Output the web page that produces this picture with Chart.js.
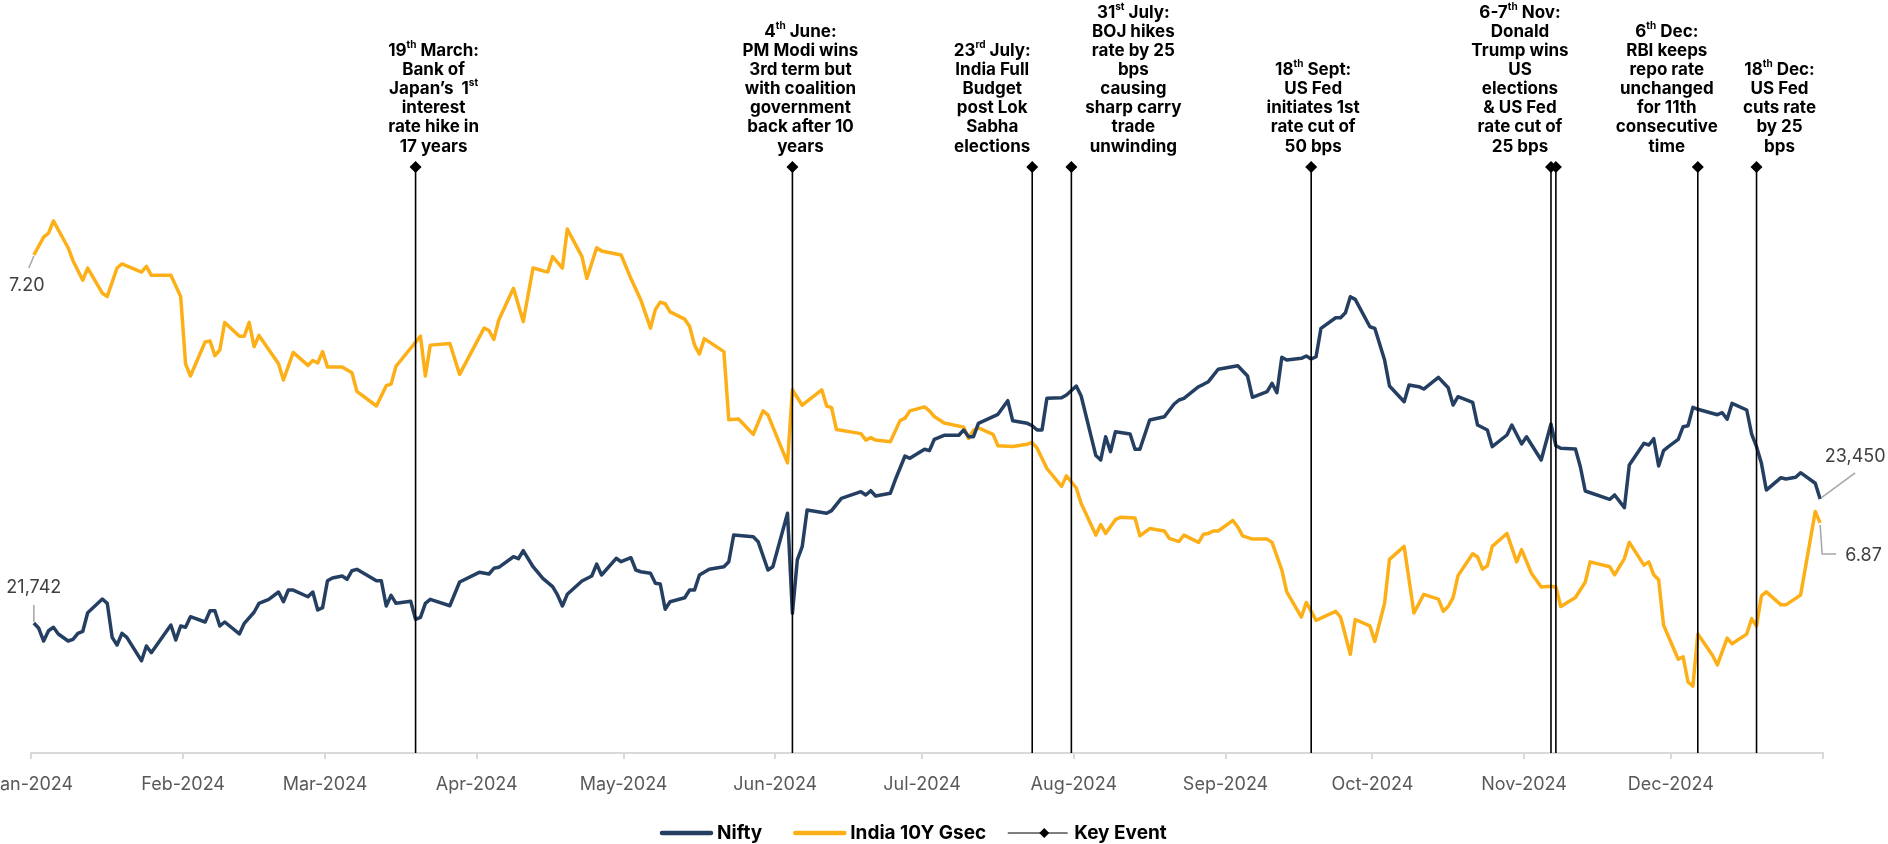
<!DOCTYPE html>
<html>
<head>
<meta charset="utf-8">
<title>Nifty x India 10Y Gsec 2024</title>
<script src="https://cdn.jsdelivr.net/npm/chart.js@4.4.1/dist/chart.umd.min.js"></script>
<style>
  html, body { margin: 0; padding: 0; background: #fff; overflow: hidden; }
  #quadro { position: relative; width: 1888px; height: 844px; }
</style>
</head>
<body>
<div id="quadro"><canvas id="graficoNifty" width="1888" height="844"></canvas></div>
<script>
// eixo x: dia do ano (1 = 1 jan 2024); ticks no inicio de cada mes
const mesInicio = [0, 31, 60, 91, 121, 152, 182, 213, 244, 274, 305, 335, 366];
const mesRotulo = ['Jan-2024', 'Feb-2024', 'Mar-2024', 'Apr-2024', 'May-2024', 'Jun-2024',
  'Jul-2024', 'Aug-2024', 'Sep-2024', 'Oct-2024', 'Nov-2024', 'Dec-2024', ''];

// Nifty 50 - fechamento
const niftyDia = [1,2,3,4,5,6,8,9,10,11,12,15,16,17,18,19,20,23,24,25,29,30,31,32,33,36,37,38,39,40,
  43,44,46,47,49,51,52,53,54,57,58,59,60,61,62,64,65,66,67,71,72,73,74,75,78,79,80,81,82,86,
  88,92,94,95,96,99,100,101,103,105,107,108,109,110,113,115,116,117,120,121,123,124,125,127,128,129,130,131,134,135,
  136,137,139,142,143,144,148,149,151,152,155,156,157,158,159,163,164,166,170,171,172,173,176,177,179,180,183,184,185,187,
  190,191,192,193,194,198,200,201,204,205,206,207,208,211,212,214,215,218,219,220,221,222,225,226,227,229,232,234,235,236,
  239,240,241,243,247,249,250,253,254,255,256,257,260,261,262,263,264,267,268,269,270,271,274,275,277,278,281,282,284,285,
  288,290,291,292,295,296,298,299,302,303,305,306,309,311,312,313,316,317,318,323,324,326,327,330,331,332,333,334,335,337,
  338,339,340,341,345,346,347,348,351,352,353,354,355,358,359,361,362,365,366];
const niftyFech = [21742,21669,21494,21636,21683,21591,21494,21518,21600,21628,21884,22072,22013,21545,21439,21600,21545,21223,21425,21333,21714,21508,21701,21683,21829,21756,21911,21911,21701,21756,
  21591,21738,21890,22013,22068,22169,22035,22196,22196,22104,22169,21921,21953,22324,22362,22389,22344,22462,22481,22324,22324,21976,22123,22013,22041,21793,21820,22013,22068,21980,
  22307,22440,22417,22495,22509,22655,22627,22738,22517,22357,22242,22128,21976,22137,22320,22389,22554,22403,22633,22586,22641,22472,22448,22426,22289,22279,21931,22035,22090,22196,
  22196,22403,22481,22517,22586,22954,22930,22862,22472,22517,23253,21876,22610,22793,23298,23253,23289,23459,23550,23505,23564,23491,23528,23711,24042,24010,24134,24115,24272,24327,
  24327,24400,24307,24307,24492,24616,24803,24528,24492,24459,24400,24400,24836,24844,24882,25005,24868,24048,23987,24307,24101,24376,24345,24134,24134,24537,24583,24758,24813,24836,
  24996,25029,25065,25236,25285,25143,24850,24927,25043,24913,25401,25364,25387,25419,25377,25409,25800,25946,25946,26015,26235,26199,25822,25800,25364,25005,24789,25019,24996,24964,
  25125,24982,24744,24858,24781,24468,24400,24170,24331,24468,24207,24307,23987,24482,24183,24148,24138,23894,23560,23445,23505,23330,23918,24216,24193,24280,23904,24115,24170,24272,
  24445,24459,24712,24685,24610,24638,24547,24767,24675,24344,24170,23941,23573,23743,23725,23748,23812,23666,23450];

// India 10Y Gsec - yield (%)
const gsecDia = [1,3,4,5,8,9,11,12,15,16,18,19,23,24,25,29,30,31,32,33,36,37,38,39,40,43,44,45,46,47,
  51,52,54,57,58,59,60,61,64,66,67,71,73,74,75,80,81,82,86,88,93,94,95,96,99,101,103,106,107,109,
  110,113,114,116,117,121,123,125,127,128,129,130,131,134,135,136,137,138,142,143,145,148,150,151,155,156,158,162,163,164,
  165,170,171,172,173,176,178,179,180,183,184,185,187,191,192,193,194,197,198,201,204,205,206,208,211,212,214,215,218,219,
  220,222,223,226,227,229,232,233,235,236,239,240,241,242,243,246,247,248,250,253,254,256,257,260,261,263,267,268,270,271,
  274,275,277,278,281,283,285,288,289,290,291,292,295,296,297,298,299,302,304,305,307,309,311,312,313,316,318,319,323,324,
  326,327,330,331,332,333,334,337,338,339,340,341,344,345,347,348,351,352,353,354,355,358,359,362,365,366];
const gsecYield = [7.200,7.222,7.227,7.242,7.209,7.193,7.169,7.184,7.153,7.149,7.184,7.189,7.179,7.186,7.175,7.175,7.162,7.149,7.066,7.051,7.093,7.094,7.076,7.083,7.117,7.100,7.100,7.117,7.087,7.101,
  7.066,7.046,7.080,7.064,7.070,7.067,7.081,7.062,7.062,7.055,7.032,7.014,7.039,7.041,7.063,7.100,7.051,7.089,7.091,7.053,7.110,7.107,7.096,7.120,7.159,7.118,7.184,7.179,7.198,7.184,
  7.232,7.198,7.171,7.209,7.205,7.200,7.171,7.145,7.110,7.133,7.142,7.140,7.130,7.121,7.112,7.089,7.078,7.097,7.081,6.997,6.998,6.979,7.008,7.003,6.944,7.034,7.015,7.034,7.014,7.012,
  6.985,6.980,6.972,6.975,6.972,6.970,6.996,6.999,7.008,7.013,7.008,7.001,6.993,6.988,6.974,6.984,6.987,6.979,6.965,6.964,6.967,6.969,6.962,6.937,6.915,6.928,6.913,6.894,6.855,6.868,
  6.857,6.874,6.877,6.876,6.854,6.863,6.860,6.851,6.847,6.855,6.846,6.856,6.857,6.860,6.860,6.873,6.865,6.854,6.850,6.850,6.846,6.812,6.785,6.754,6.772,6.750,6.761,6.754,6.708,6.751,
  6.743,6.724,6.771,6.825,6.841,6.759,6.782,6.776,6.761,6.767,6.778,6.805,6.832,6.828,6.813,6.817,6.841,6.857,6.822,6.837,6.808,6.791,6.792,6.791,6.767,6.778,6.797,6.822,6.816,6.806,
  6.826,6.846,6.818,6.822,6.806,6.800,6.744,6.702,6.705,6.674,6.669,6.733,6.707,6.695,6.728,6.721,6.733,6.752,6.743,6.780,6.785,6.769,6.769,6.781,6.884,6.870];

// eventos (dia do ano)
const eventoDia = [79, 156, 205, 213, 262, 311, 312, 341, 353];
// notas; ^...^ = sobrescrito
const notaDia = [79, 156, 205, 213, 262, 311, 341, 353];
const notaTexto = [
  ['19^th^ March:', 'Bank of', 'Japan’s  1^st^', 'interest', 'rate hike in', '17 years'],
  ['4^th^ June:', 'PM Modi wins', '3rd term but', 'with coalition', 'government', 'back after 10', 'years'],
  ['23^rd^ July:', 'India Full', 'Budget', 'post Lok', 'Sabha', 'elections'],
  ['31^st^ July:', 'BOJ hikes', 'rate by 25', 'bps', 'causing', 'sharp carry', 'trade', 'unwinding'],
  ['18^th^ Sept:', 'US Fed', 'initiates 1st', 'rate cut of', '50 bps'],
  ['6-7^th^ Nov:', 'Donald', 'Trump wins', 'US', 'elections', '& US Fed', 'rate cut of', '25 bps'],
  ['6^th^ Dec:', 'RBI keeps', 'repo rate', 'unchanged', 'for 11th', 'consecutive', 'time'],
  ['18^th^ Dec:', 'US Fed', 'cuts rate', 'by 25', 'bps']
];
// deslocamento horizontal de cada nota em px
const notaDesloc = [18, 8, -40, 62, 2, -31, -31, 23];

const corNifty = '#253F62';
const corGsec = '#FDAF17';
const fonte = 'Inter, "Open Sans", sans-serif';

function pontos(dias, valores) {
  return dias.map((d, i) => ({ x: d - 0.5, y: valores[i] }));
}

// linhas verticais dos eventos: base (0) -> topo (1), separadas por null
const eventoPontos = [];
eventoDia.forEach(d => {
  eventoPontos.push({ x: d - 0.5, y: 0 }, { x: d - 0.5, y: 1 }, { x: d - 0.5, y: null });
});

function escreveLinha(ctx, linha, cx, cy, tam) {
  const partes = linha.split('^');
  const fN = '700 ' + tam + 'px ' + fonte;
  const fS = '700 ' + Math.round(tam * 0.6) + 'px ' + fonte;
  let largura = 0;
  partes.forEach((p, i) => { ctx.font = i % 2 ? fS : fN; largura += ctx.measureText(p).width; });
  let x = cx - largura / 2;
  partes.forEach((p, i) => {
    ctx.font = i % 2 ? fS : fN;
    ctx.fillText(p, x, i % 2 ? cy - tam * 0.33 : cy);
    x += ctx.measureText(p).width;
  });
}

const notasEventos = {
  id: 'notasEventos',
  afterDatasetsDraw(chart) {
    const { ctx, scales } = chart;
    const topo = scales.yEvt.getPixelForValue(1);
    ctx.save();
    ctx.fillStyle = '#000';
    ctx.textAlign = 'left';
    ctx.textBaseline = 'middle';
    notaTexto.forEach((linhas, i) => {
      const cx = scales.x.getPixelForValue(notaDia[i] - 0.5) + notaDesloc[i];
      linhas.forEach((linha, j) => {
        const cy = topo - 20.5 - (linhas.length - 1 - j) * 19.15;
        escreveLinha(ctx, linha, cx, cy, 17);
      });
    });

    // valores no inicio e no fim das series
    const n = niftyDia.length - 1, g = gsecDia.length - 1;
    const nIni = [scales.x.getPixelForValue(niftyDia[0] - 0.5), scales.yN.getPixelForValue(niftyFech[0])];
    const nFim = [scales.x.getPixelForValue(niftyDia[n] - 0.5), scales.yN.getPixelForValue(niftyFech[n])];
    const gIni = [scales.x.getPixelForValue(gsecDia[0] - 0.5), scales.yG.getPixelForValue(gsecYield[0])];
    const gFim = [scales.x.getPixelForValue(gsecDia[g] - 0.5), scales.yG.getPixelForValue(gsecYield[g])];
    ctx.strokeStyle = '#A6A6A6';
    ctx.lineWidth = 1.5;
    ctx.beginPath();
    ctx.moveTo(nIni[0], nIni[1] - 1); ctx.lineTo(nIni[0], nIni[1] - 18);
    ctx.moveTo(gIni[0], gIni[1] + 1); ctx.lineTo(gIni[0] - 5, gIni[1] + 13);
    ctx.moveTo(nFim[0] + 1, nFim[1] - 1); ctx.lineTo(nFim[0] + 35, nFim[1] - 26);
    ctx.moveTo(gFim[0], gFim[1] + 2); ctx.lineTo(gFim[0] + 2, gFim[1] + 31); ctx.lineTo(gFim[0] + 16, gFim[1] + 31);
    ctx.stroke();
    ctx.fillStyle = '#404040';
    ctx.font = '400 18px ' + fonte;
    ctx.textAlign = 'center';
    const fmt = v => v.toLocaleString('en-US');
    ctx.fillText(fmt(niftyFech[0]), nIni[0], nIni[1] - 35);
    ctx.fillText(gsecYield[0].toFixed(2), gIni[0] - 7, gIni[1] + 31);
    ctx.fillText(fmt(niftyFech[n]), nFim[0] + 35, nFim[1] - 42);
    ctx.textAlign = 'left';
    ctx.fillText(gsecYield[g].toFixed(2), gFim[0] + 25, gFim[1] + 33);
    ctx.restore();
  }
};

// legenda desenhada abaixo do eixo
const legendaBase = {
  id: 'legendaBase',
  afterDraw(chart) {
    const ctx = chart.ctx;
    const y = 833;
    const espaco = [31, 22, 0];
    let x = 660;
    ctx.save();
    ctx.textBaseline = 'middle';
    ctx.textAlign = 'left';
    ctx.font = '700 19px ' + fonte;
    chart.data.datasets.forEach((ds, i) => {
      ctx.strokeStyle = ds.borderColor;
      ctx.lineCap = 'round';
      if (ds.pointStyle === 'rectRot') {
        ctx.lineWidth = 1.2;
        ctx.beginPath(); ctx.moveTo(x, y); ctx.lineTo(x + 59, y); ctx.stroke();
        ctx.fillStyle = '#000';
        ctx.beginPath();
        ctx.moveTo(x + 36 - 5, y); ctx.lineTo(x + 36, y - 5); ctx.lineTo(x + 36 + 5, y); ctx.lineTo(x + 36, y + 5);
        ctx.closePath(); ctx.fill();
        x += 66;
      } else {
        ctx.lineWidth = 4.5;
        ctx.beginPath(); ctx.moveTo(x + 2, y); ctx.lineTo(x + 51, y); ctx.stroke();
        x += 57;
      }
      ctx.fillStyle = '#000';
      ctx.fillText(ds.label, x, y);
      x += ctx.measureText(ds.label).width + espaco[i];
    });
    ctx.restore();
  }
};

const grafico = new Chart(document.getElementById('graficoNifty'), {
  type: 'line',
  data: {
    datasets: [{
      label: 'Nifty',
      data: pontos(niftyDia, niftyFech),
      yAxisID: 'yN',
      borderColor: corNifty,
      borderWidth: 3.5,
      pointRadius: 0,
      borderJoinStyle: 'round',
      order: 1
    }, {
      label: 'India 10Y Gsec',
      data: pontos(gsecDia, gsecYield),
      yAxisID: 'yG',
      borderColor: corGsec,
      borderWidth: 3.5,
      pointRadius: 0,
      borderJoinStyle: 'round',
      order: 2
    }, {
      label: 'Key Event',
      data: eventoPontos,
      yAxisID: 'yEvt',
      borderColor: '#000',
      borderWidth: 1.6,
      spanGaps: false,
      pointStyle: 'rectRot',
      pointRadius: ctx => (ctx.raw && ctx.raw.y === 1 ? 6 : 0),
      pointBackgroundColor: '#000',
      pointBorderWidth: 0,
      order: 0
    }]
  },
  options: {
    responsive: false,
    devicePixelRatio: 1,
    animation: false,
    // eixo x ocupa 6 + 21.6 + 2*14.5 px; area do grafico termina em y = 753
    layout: { padding: { left: 31.4, right: 65.4, top: 0, bottom: 34.4 } },
    plugins: { legend: { display: false }, tooltip: { enabled: false } },
    scales: {
      x: {
        type: 'linear',
        min: 0,
        max: 366,
        afterBuildTicks: scale => { scale.ticks = mesInicio.map(v => ({ value: v })); },
        afterFit: scale => { scale.paddingLeft = 0; scale.paddingRight = 0; },
        grid: { drawOnChartArea: false, drawTicks: true, tickLength: 6, color: '#D9D9D9', lineWidth: 2 },
        border: { display: true, color: '#D9D9D9', width: 2 },
        ticks: {
          autoSkip: false,
          maxRotation: 0,
          padding: 14.5,
          color: '#595959',
          font: { family: fonte, size: 18 },
          callback: (v, i) => mesRotulo[i]
        }
      },
      yN: { display: false, min: 19952, max: 30321 },
      yG: { display: false, min: 6.5865, max: 7.5142 },
      yEvt: { display: false, min: 0, max: 1.285 }
    }
  },
  plugins: [notasEventos, legendaBase]
});
</script>
</body>
</html>
